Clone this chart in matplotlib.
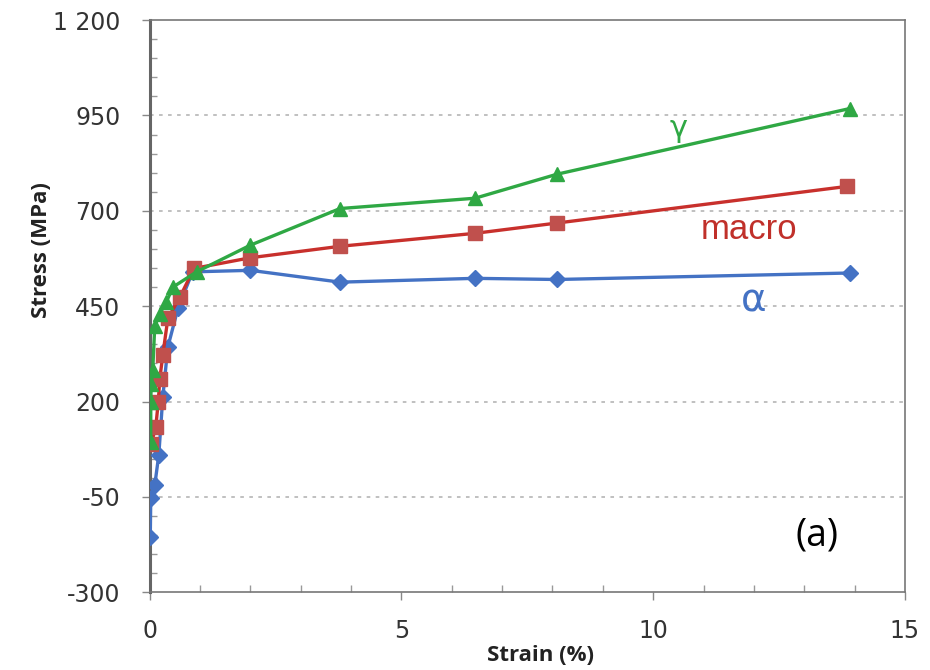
import matplotlib
matplotlib.use("Agg")
import matplotlib.pyplot as plt
from matplotlib.ticker import MultipleLocator

plt.rcParams['font.family'] = ['Open Sans', 'DejaVu Sans']

# Data (strain %, stress MPa)
alpha_x = [0.01, 0.02, 0.10, 0.18, 0.26, 0.36, 0.56, 0.85, 2.0, 3.78, 6.46, 8.09, 13.9]
alpha_y = [-155, -54, -19, 60, 212, 343, 444, 540, 544, 513, 523, 520, 537]

macro_x = [0.03, 0.12, 0.17, 0.20, 0.26, 0.36, 0.60, 0.88, 2.0, 3.78, 6.46, 8.09, 13.85]
macro_y = [90, 133, 200, 260, 322, 418, 474, 549, 577, 607, 641, 668, 764]

gamma_x = [0.02, 0.02, 0.03, 0.06, 0.10, 0.20, 0.33, 0.46, 0.93, 2.0, 3.78, 6.46, 8.09, 13.9]
gamma_y = [95, 200, 247, 283, 398, 430, 461, 500, 540, 610, 706, 733, 796, 968]

yticks = [-300, -50, 200, 450, 700, 950, 1200]
ytick_labels = ['-300', '-50', '200', '450', '700', '950', '1 200']
xticks = [0, 5, 10, 15]

fig = plt.figure(figsize=(9.3, 6.7), dpi=100)
ax = fig.add_axes([0.161, 0.116, 0.812, 0.854])

blue = '#4472C4'
red_line = '#C8302C'
red_mk = '#C0504D'
green = '#2FA844'

ax.plot(alpha_x, alpha_y, color=blue, lw=2.4, marker='D', ms=8.5, mfc=blue, mec=blue, zorder=3)
ax.plot(macro_x, macro_y, color=red_line, lw=2.4, marker='s', ms=10, mfc=red_mk, mec=red_mk, zorder=4)
ax.plot(gamma_x, gamma_y, color=green, lw=2.4, marker='^', ms=10.5, mfc=green, mec=green, zorder=5)

ax.set_xlim(0, 15)
ax.set_ylim(-300, 1200)
ax.set_yticks(yticks)
ax.set_yticklabels(ytick_labels)
ax.set_xticks(xticks)
ax.yaxis.set_minor_locator(MultipleLocator(50))
ax.xaxis.set_minor_locator(MultipleLocator(1))

ax.tick_params(axis='both', which='major', direction='out', length=6, width=1, color='#888888',
               labelsize=17, labelcolor='#333333')
ax.tick_params(axis='both', which='minor', direction='in', length=5, width=1, color='#999999')
ax.tick_params(axis='x', which='major', pad=13)
ax.tick_params(axis='y', which='major', pad=15)
for lab in ax.get_xticklabels() + ax.get_yticklabels():
    lab.set_family(['DejaVu Sans'])

for y in [-50, 200, 450, 700, 950]:
    ax.axhline(y, color='#BBBBBB', lw=1.3, ls=(0, (2, 3)), zorder=1)

for s in ['top', 'right', 'bottom']:
    ax.spines[s].set_color('#777777')
    ax.spines[s].set_linewidth(1.2)
ax.spines['left'].set_color('#666666')
ax.spines['left'].set_linewidth(2.2)

ax.set_xlabel('Strain (%)', fontsize=16, fontweight='bold', color='#222222')
ax.set_ylabel('Stress (MPa)', fontsize=16, fontweight='bold', color='#222222')
ax.xaxis.set_label_coords(0.517, -0.092)
ax.yaxis.set_label_coords(-0.130, 0.598)

ax.text(10.5, 915, 'γ', color=green, fontsize=22, ha='center', va='center', family=['DejaVu Sans'])
ax.text(11.9, 650, 'macro', color='#C0302A', fontsize=25, ha='center', va='center',
        family=['Liberation Sans', 'DejaVu Sans'])
ax.text(12.0, 466, 'α', color=blue, fontsize=28, ha='center', va='center', family=['DejaVu Sans'])
ax.text(13.25, -150, '(a)', color='black', fontsize=27, ha='center', va='center')

fig.savefig('out.png', dpi=100, facecolor='white')
